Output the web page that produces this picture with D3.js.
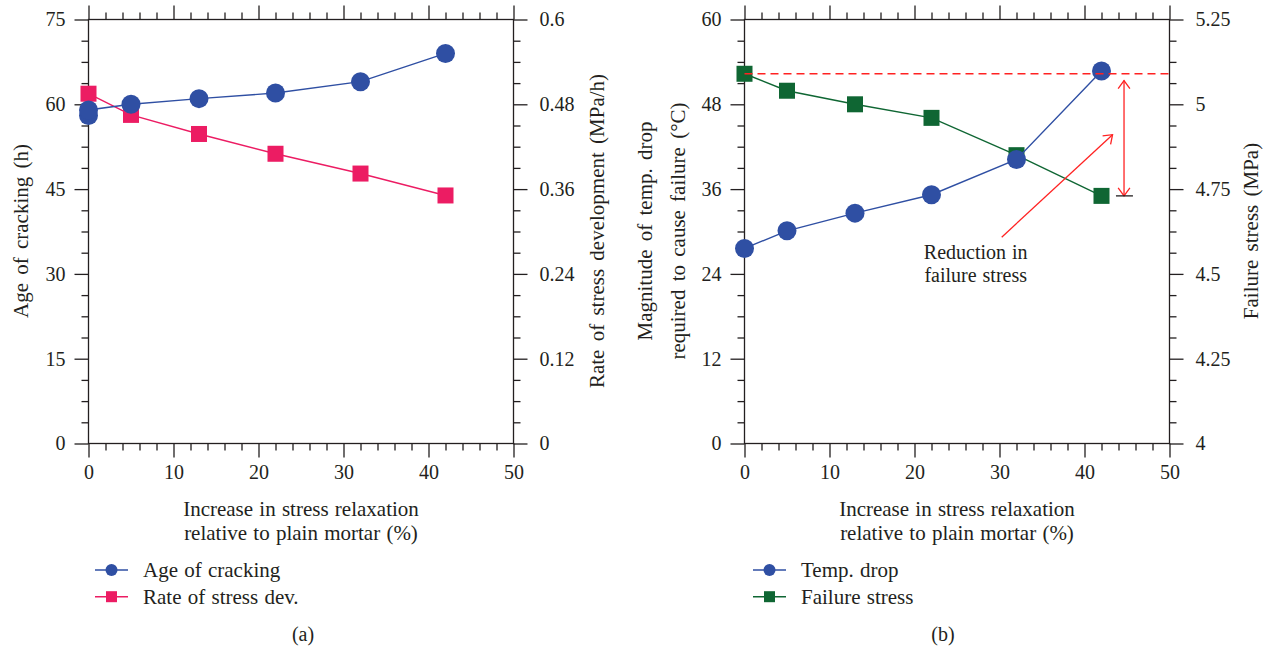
<!DOCTYPE html>
<html>
<head>
<meta charset="utf-8">
<script src="https://cdn.jsdelivr.net/npm/d3@7/dist/d3.min.js"></script>
<style>
  body { margin: 0; background: #fff; }
  svg { display: block; }
  text { font-family: "Liberation Serif", "DejaVu Serif", serif; fill: #231f20; word-spacing: 1px; }
</style>
</head>
<body>
<svg width="1267" height="648"></svg>
<script>
// relaxation increase (%) for each mix
var relax = [0, 5, 13, 22, 32, 42];
// panel (a): plain mortar was measured twice, hence two points at 0
var crackRelax = [0, 0, 5, 13, 22, 32, 42];
var crackAge = [58, 59, 60, 61, 62, 64, 69];
var stressRate = [0.495, 0.465, 0.438, 0.41, 0.382, 0.351];
// panel (b)
var tempDrop = [27.6, 30.1, 32.6, 35.2, 40.2, 52.7];
var failStress = [5.09, 5.04, 5.0, 4.96, 4.85, 4.73];

var xTicks = [0, 10, 20, 30, 40, 50];
var ageTicks = [0, 15, 30, 45, 60, 75];
var rateTicks = [0, 0.12, 0.24, 0.36, 0.48, 0.6];
var tempTicks = [0, 12, 24, 36, 48, 60];
var stressTicks = [4, 4.25, 4.5, 4.75, 5, 5.25];

var ink = '#231f20';
var blue = '#2f4fa3';
var pink = '#ec1c63';
var green = '#0f6633';
var red = '#ff2222';

var svg = d3.select('svg');
var top0 = 19.5, bottom0 = 443.5;

function minorOf(ticks, n) {
  var out = [];
  for (var i = 0; i < ticks.length - 1; i++) {
    var step = (ticks[i + 1] - ticks[i]) / n;
    for (var k = 1; k < n; k++) out.push(ticks[i] + k * step);
  }
  return out;
}

function addAxis(g, axisFn, scale, ticks, nMinor, pos, fmt, pad) {
  var a = g.append('g').attr('transform', pos);
  a.call(axisFn(scale).tickValues(ticks).tickSize(14).tickSizeOuter(0)
    .tickPadding(pad).tickFormat(fmt));
  var m = g.append('g').attr('transform', pos);
  m.call(axisFn(scale).tickValues(minorOf(ticks, nMinor)).tickSize(7).tickSizeOuter(0).tickFormat(''));
  g.selectAll('.domain').remove();
  a.selectAll('line').attr('stroke', ink).attr('stroke-width', 1.3);
  m.selectAll('line').attr('stroke', ink).attr('stroke-width', 1.3);
  a.selectAll('text').attr('font-size', 20).style('font-family', '"Liberation Serif", serif').attr('fill', ink);
  return a;
}

function panel(o) {
  var g = svg.append('g');
  var x = d3.scaleLinear().domain([0, 50]).range([o.left, o.left + 425]);
  var yL = d3.scaleLinear().domain(o.yLDom).range([bottom0, top0]);
  var yR = d3.scaleLinear().domain(o.yRDom).range([bottom0, top0]);

  addAxis(g, d3.axisBottom, x, xTicks, 5, 'translate(0,' + bottom0 + ')', d3.format('d'), 7);
  addAxis(g, d3.axisTop, x, xTicks, 5, 'translate(0,' + top0 + ')', '', 8);
  addAxis(g, d3.axisLeft, yL, o.yLTicks, 4, 'translate(' + o.left + ',0)', String, 9);
  addAxis(g, d3.axisRight, yR, o.yRTicks, 4, 'translate(' + (o.left + 425) + ',0)', String, 12);

  g.append('rect')
    .attr('x', o.left).attr('y', top0)
    .attr('width', 425).attr('height', bottom0 - top0)
    .attr('fill', 'none').attr('stroke', ink).attr('stroke-width', 1.3);

  var cx = o.left + 212.5;
  g.append('text').attr('x', cx).attr('y', 509).attr('text-anchor', 'middle')
    .attr('dominant-baseline', 'central').attr('font-size', 21).text('Increase in stress relaxation');
  g.append('text').attr('x', cx).attr('y', 533).attr('text-anchor', 'middle')
    .attr('dominant-baseline', 'central').attr('font-size', 21).text('relative to plain mortar (%)');

  o.yLLabel.forEach(function (t, i) {
    g.append('text')
      .attr('transform', 'translate(' + o.yLLabelX[i] + ',231) rotate(-90)')
      .attr('text-anchor', 'middle').attr('dominant-baseline', 'central')
      .attr('font-size', 21).style('word-spacing', '3px').text(t);
  });
  g.append('text')
    .attr('transform', 'translate(' + o.yRLabelX + ',231) rotate(-90)')
    .attr('text-anchor', 'middle').attr('dominant-baseline', 'central')
    .attr('font-size', 21).style('word-spacing', '3px').text(o.yRLabel);

  g.append('text').attr('x', o.capX).attr('y', 634).attr('text-anchor', 'middle')
    .attr('dominant-baseline', 'central').attr('font-size', 20).text(o.caption);

  return { g: g, x: x, yL: yL, yR: yR };
}

function series(p, xs, ys, y, color, shape, size) {
  var line = d3.line().x(function (d, i) { return p.x(xs[i]); }).y(function (d) { return y(d); });
  p.g.append('path').datum(ys).attr('d', line)
    .attr('fill', 'none').attr('stroke', color).attr('stroke-width', 1.4);
  var pts = p.g.append('g').selectAll(shape).data(ys).enter();
  if (shape === 'circle') {
    pts.append('circle')
      .attr('cx', function (d, i) { return p.x(xs[i]); })
      .attr('cy', function (d) { return y(d); })
      .attr('r', size).attr('fill', color);
  } else {
    pts.append('rect')
      .attr('x', function (d, i) { return p.x(xs[i]) - size / 2; })
      .attr('y', function (d) { return y(d) - size / 2; })
      .attr('width', size).attr('height', size).attr('fill', color);
  }
}

function legend(x0, items) {
  items.forEach(function (it, i) {
    var y = 570 + i * 26.7;
    svg.append('line').attr('x1', x0).attr('x2', x0 + 33).attr('y1', y).attr('y2', y)
      .attr('stroke', it.color).attr('stroke-width', 1.4);
    if (it.shape === 'circle') {
      svg.append('circle').attr('cx', x0 + 16.5).attr('cy', y).attr('r', 6).attr('fill', it.color);
    } else {
      svg.append('rect').attr('x', x0 + 11).attr('y', y - 5.5).attr('width', 11).attr('height', 11).attr('fill', it.color);
    }
    svg.append('text').attr('x', x0 + 48).attr('y', y).attr('dominant-baseline', 'central')
      .attr('font-size', 21).text(it.label);
  });
}

function arrowHead(g, x1, y1, x2, y2) {
  var a = Math.atan2(y2 - y1, x2 - x1), len = 10, spread = Math.PI / 5;
  var p = [
    [x2 - len * Math.cos(a - spread), y2 - len * Math.sin(a - spread)],
    [x2, y2],
    [x2 - len * Math.cos(a + spread), y2 - len * Math.sin(a + spread)]
  ];
  g.append('path').attr('d', d3.line()(p)).attr('fill', 'none')
    .attr('stroke', red).attr('stroke-width', 1.3);
}

// panel (a)
var pa = panel({
  left: 88.5, yLDom: [0, 75], yRDom: [0, 0.6], yLTicks: ageTicks, yRTicks: rateTicks,
  yLLabel: ['Age of cracking (h)'], yLLabelX: [21],
  yRLabel: 'Rate of stress development (MPa/h)', yRLabelX: 597,
  caption: '(a)', capX: 303
});
series(pa, relax, stressRate, pa.yR, pink, 'rect', 16);
series(pa, crackRelax, crackAge, pa.yL, blue, 'circle', 9.5);
legend(95, [
  { label: 'Age of cracking', color: blue, shape: 'circle' },
  { label: 'Rate of stress dev.', color: pink, shape: 'rect' }
]);

// panel (b)
var pb = panel({
  left: 744.5, yLDom: [0, 60], yRDom: [4, 5.25], yLTicks: tempTicks, yRTicks: stressTicks,
  yLLabel: ['Magnitude of temp. drop', 'required to cause failure (\u00b0C)'], yLLabelX: [645, 678],
  yRLabel: 'Failure stress (MPa)', yRLabelX: 1251,
  caption: '(b)', capX: 943
});
series(pb, relax, failStress, pb.yR, green, 'rect', 16);
series(pb, relax, tempDrop, pb.yL, blue, 'circle', 9.5);
legend(753, [
  { label: 'Temp. drop', color: blue, shape: 'circle' },
  { label: 'Failure stress', color: green, shape: 'rect' }
]);

// annotation: drop in failure stress from plain mortar
var ann = pb.g.append('g');
ann.append('line')
  .attr('x1', pb.x(0)).attr('x2', pb.x(50))
  .attr('y1', pb.yR(failStress[0])).attr('y2', pb.yR(failStress[0]))
  .attr('stroke', red).attr('stroke-width', 1.3).attr('stroke-dasharray', '8,5');

var ax = pb.x(44.65), aTop = pb.yR(5.07), aBot = pb.yR(failStress[failStress.length - 1]);
ann.append('line').attr('x1', ax).attr('x2', ax).attr('y1', aTop).attr('y2', aBot)
  .attr('stroke', red).attr('stroke-width', 1.3);
arrowHead(ann, ax, aBot, ax, aTop);
arrowHead(ann, ax, aTop, ax, aBot);
ann.append('line').attr('x1', pb.x(43.7)).attr('x2', pb.x(45.7)).attr('y1', aBot).attr('y2', aBot)
  .attr('stroke', ink).attr('stroke-width', 1.3);

var d0 = [pb.x(30.26), pb.yL(29.2)], d1 = [pb.x(43.3), pb.yL(43.7)];
ann.append('line').attr('x1', d0[0]).attr('y1', d0[1]).attr('x2', d1[0]).attr('y2', d1[1])
  .attr('stroke', red).attr('stroke-width', 1.3);
arrowHead(ann, d0[0], d0[1], d1[0], d1[1]);

ann.append('text').attr('x', pb.x(27.2)).attr('y', 251.5).attr('text-anchor', 'middle')
  .attr('dominant-baseline', 'central').attr('font-size', 20).text('Reduction in');
ann.append('text').attr('x', pb.x(27.2)).attr('y', 274.5).attr('text-anchor', 'middle')
  .attr('dominant-baseline', 'central').attr('font-size', 20).text('failure stress');
</script>
</body>
</html>
